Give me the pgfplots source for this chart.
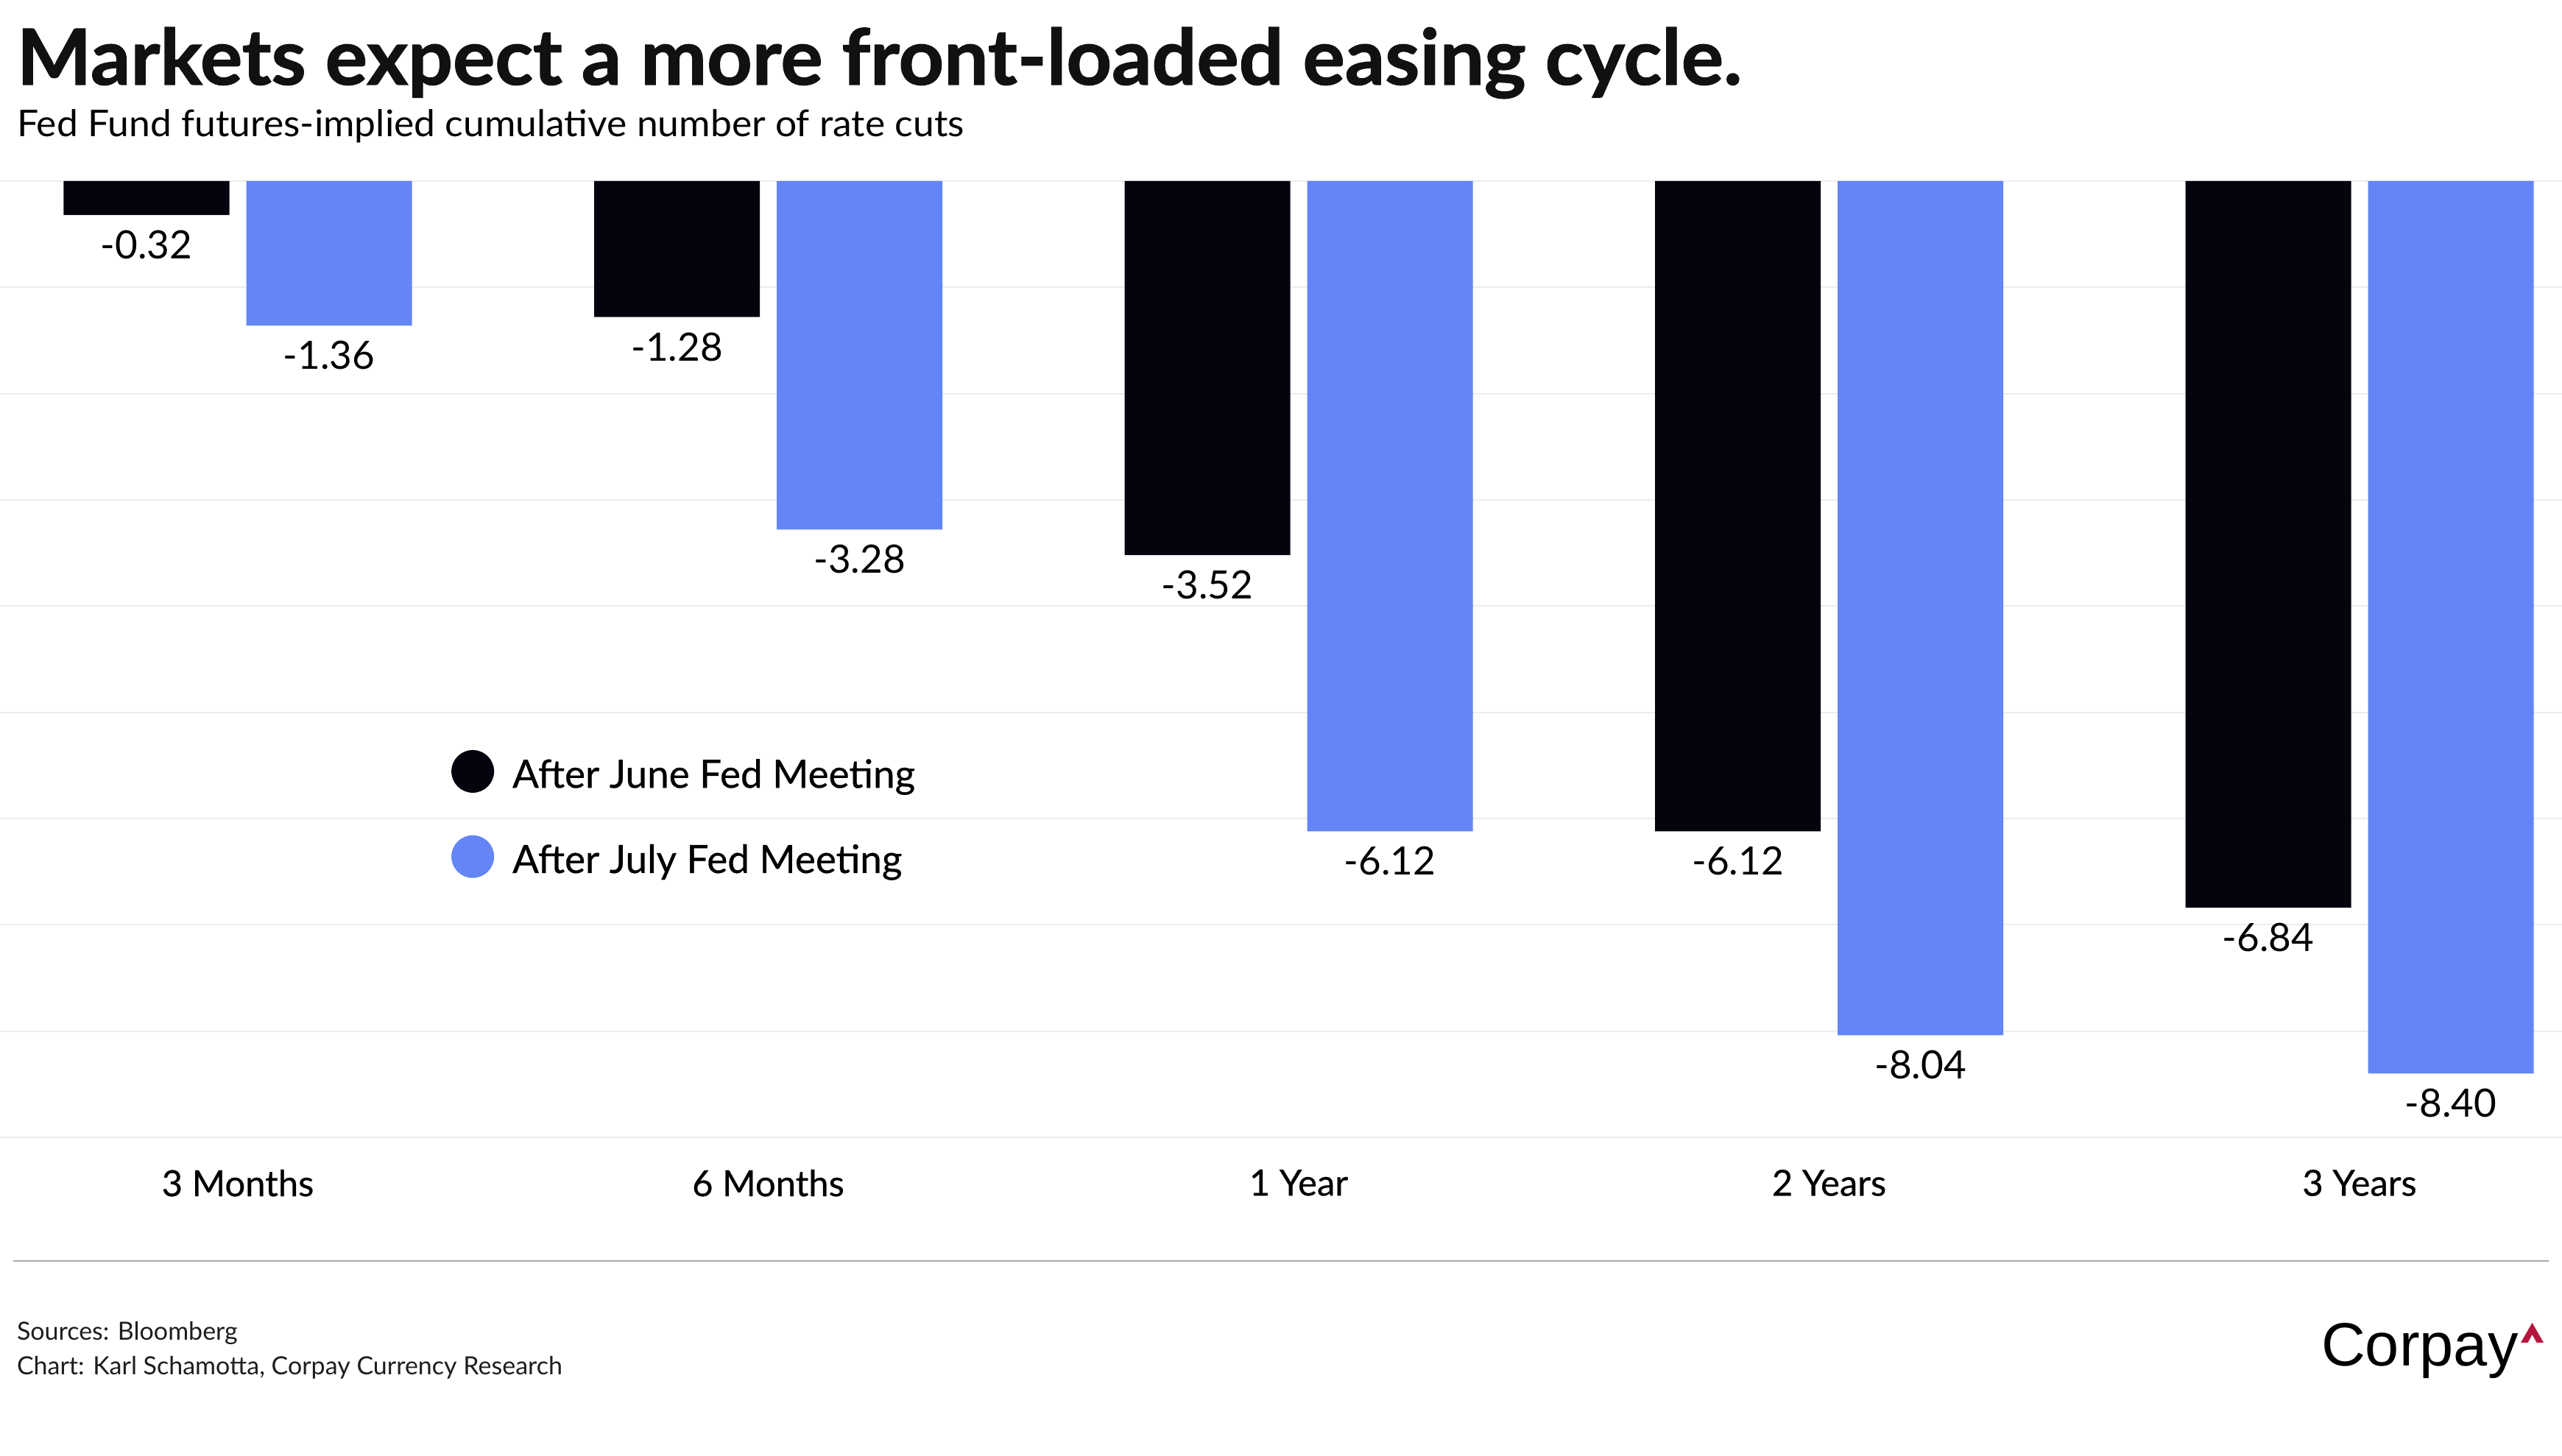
\documentclass[border=0pt]{standalone}
\usepackage{fontspec}
\setmainfont{Lato}[BoldFeatures={FakeBold=1.2}]
\newfontfamily\medfont{Lato}[FakeBold=0.5]
\newfontfamily\logofont{Liberation Sans}
\usepackage{pgfplots}
\pgfplotsset{compat=1.18}
\definecolor{junecol}{RGB}{5,3,13}
\definecolor{julycol}{RGB}{99,133,245}
\definecolor{gridcol}{RGB}{236,236,236}
\definecolor{rulecol}{RGB}{168,168,168}
\definecolor{caretcol}{RGB}{181,22,62}
\begin{document}
\begin{tikzpicture}
\fill[white] (0pt,0pt) rectangle (696pt,395.6pt);
\path[use as bounding box] (0pt,0pt) rectangle (696pt,395.6pt);
\begin{axis}[
  at={(0pt,86.6pt)}, anchor=south west,
  scale only axis, width=696pt, height=259.8pt,
  xmin=-0.4483, xmax=4.3817, ymin=-9, ymax=0,
  axis line style={draw=none},
  major tick length=0pt,
  ytick={-9,-8,...,0}, yticklabels={},
  ymajorgrids, grid style={color=gridcol, line width=0.4pt},
  xtick={0,1,2,3,4},
  xticklabels={3 Months,6 Months,1 Year,2 Years,3 Years},
  xticklabel style={font=\medfont\fontsize{9.8}{12}\selectfont, anchor=north, inner sep=0pt, yshift=-8.6pt},
  ybar, bar width=45pt,
  nodes near coords={\pgfmathprintnumber[fixed,fixed zerofill,precision=2,assume math mode=true]{\pgfplotspointmeta}},
  every node near coord/.append style={font=\fontsize{10.6}{12}\selectfont, anchor=north, inner sep=0pt, yshift=-4pt, text=black},
  legend cell align=left,
  legend style={draw=none, fill=none, inner sep=0pt, at={(0.1759,0.4092)}, anchor=north west,
    nodes={inner sep=0pt}, row sep=10.5pt, font=\medfont\fontsize{10.6}{13}\selectfont},
  clip=false,
]
\addplot[fill=junecol, draw=none, bar shift=-24.8pt,
  legend image code/.code={\fill[junecol, overlay] (5.8pt,1.3pt) circle (5.8pt); \path (0pt,0pt) (16.6pt,8pt);}]
  coordinates {(0,-0.32) (1,-1.28) (2,-3.52) (3,-6.12) (4,-6.84)};
\addplot[fill=julycol, draw=none, bar shift=24.8pt,
  legend image code/.code={\fill[julycol, overlay] (5.8pt,1.3pt) circle (5.8pt); \path (0pt,0pt) (16.6pt,8pt);}]
  coordinates {(0,-1.36) (1,-3.28) (2,-6.12) (3,-8.04) (4,-8.40)};
\legend{After June Fed Meeting, After July Fed Meeting}
\end{axis}
% titles
\node[anchor=base west, inner sep=0pt, text={rgb,255:red,17;green,17;blue,17}] at (4.4pt,372.6pt)
  {\scalebox{1.021}[1]{\fontsize{21}{24}\selectfont\bfseries Markets expect a more front-loaded easing cycle.}};
\node[anchor=base west, inner sep=0pt] at (4.4pt,358.4pt)
  {\scalebox{1.032}[1]{\fontsize{10}{12}\selectfont Fed Fund futures-implied cumulative number of rate cuts}};
% footer
\draw[rulecol, line width=0.5pt] (3.6pt,53pt) -- (692.4pt,53pt);
\node[anchor=base west, inner sep=0pt, text={rgb,255:red,30;green,30;blue,30}] at (4.4pt,31.4pt)
  {\fontsize{6.8}{9}\selectfont Sources: Bloomberg};
\node[anchor=base west, inner sep=0pt, text={rgb,255:red,30;green,30;blue,30}] at (4.4pt,22pt)
  {\fontsize{6.8}{9}\selectfont Chart: Karl Schamotta, Corpay Currency Research};
% logo
\node[anchor=base west, inner sep=0pt] at (630.4pt,24.4pt) {\logofont\fontsize{16.6}{18}\selectfont Corpay};
\fill[caretcol] (684.8pt,30.8pt) -- (687.9pt,36.2pt) -- (691.0pt,30.8pt) -- (689.1pt,30.8pt)
  -- (687.9pt,33.0pt) -- (686.7pt,30.8pt) -- cycle;
\end{tikzpicture}
\end{document}
